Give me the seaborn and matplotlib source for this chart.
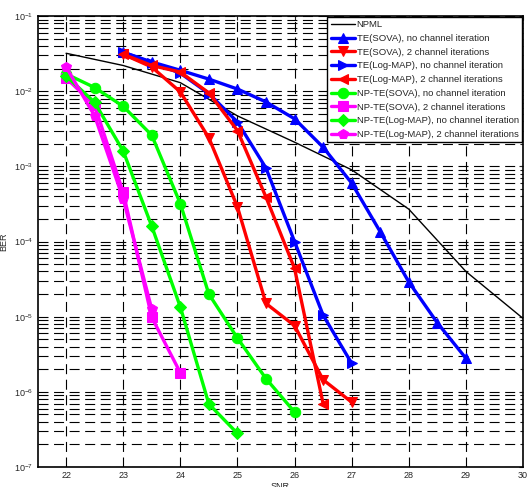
import numpy as np
import pandas as pd
import matplotlib
matplotlib.use('Agg')
import matplotlib.pyplot as plt
import seaborn as sns
from matplotlib.ticker import LogLocator, NullFormatter

# datos
snr_npml = [22, 23, 24, 25, 26, 27, 28, 29, 30]
ber_npml = [0.032, 0.022, 0.013, 0.0047, 0.0021, 0.0009, 0.00027, 4.0e-5, 9.5e-6]

snr_te_sova_0 = [23, 23.5, 24, 24.5, 25, 25.5, 26, 26.5, 27, 27.5, 28, 28.5, 29]
ber_te_sova_0 = [0.033, 0.0245, 0.019, 0.0145, 0.0107, 0.0072, 0.0043, 0.0018,
                 0.0006, 0.000135, 2.9e-5, 8.3e-6, 2.8e-6]

snr_te_sova_2 = [23, 23.5, 24, 24.5, 25, 25.5, 26, 26.5, 27]
ber_te_sova_2 = [0.031, 0.021, 0.0098, 0.0024, 0.00029, 1.5e-5, 7.6e-6, 1.45e-6, 7.3e-7]

snr_te_map_0 = [23, 23.5, 24, 24.5, 25, 25.5, 26, 26.5, 27]
ber_te_map_0 = [0.033, 0.024, 0.0174, 0.0093, 0.0039, 0.00095, 1.0e-4, 1.05e-5, 2.4e-6]

snr_te_map_2 = [23, 23.5, 24, 24.5, 25, 25.5, 26, 26.5]
ber_te_map_2 = [0.031, 0.022, 0.018, 0.0095, 0.003, 0.00039, 4.4e-5, 7.0e-7]

snr_np_sova_0 = [22, 22.5, 23, 23.5, 24, 24.5, 25, 25.5, 26]
ber_np_sova_0 = [0.017, 0.0112, 0.0063, 0.0026, 0.00032, 2.0e-5, 5.2e-6, 1.5e-6, 5.4e-7]

snr_np_sova_2 = [22, 22.5, 23, 23.5, 24]
ber_np_sova_2 = [0.015, 0.0065, 0.00045, 9.8e-6, 1.8e-6]

snr_np_map_0 = [22, 22.5, 23, 23.5, 24, 24.5, 25]
ber_np_map_0 = [0.016, 0.0071, 0.0016, 0.00016, 1.35e-5, 6.9e-7, 2.8e-7]

snr_np_map_2 = [22, 22.5, 23, 23.5]
ber_np_map_2 = [0.021, 0.0047, 0.00037, 1.26e-5]

etiquetas = ['NPML',
             'TE(SOVA), no channel iteration',
             'TE(SOVA), 2 channel iterations',
             'TE(Log-MAP), no channel iteration',
             'TE(Log-MAP), 2 channel iterations',
             'NP-TE(SOVA), no channel iteration',
             'NP-TE(SOVA), 2 channel iterations',
             'NP-TE(Log-MAP), no channel iteration',
             'NP-TE(Log-MAP), 2 channel iterations']

series = [(snr_npml, ber_npml), (snr_te_sova_0, ber_te_sova_0), (snr_te_sova_2, ber_te_sova_2),
          (snr_te_map_0, ber_te_map_0), (snr_te_map_2, ber_te_map_2),
          (snr_np_sova_0, ber_np_sova_0), (snr_np_sova_2, ber_np_sova_2),
          (snr_np_map_0, ber_np_map_0), (snr_np_map_2, ber_np_map_2)]

colores = ['black', '#0000ff', '#ff0000', '#0000ff', '#ff0000',
           '#00ff00', '#ff00ff', '#00ff00', '#ff00ff']
marcadores = [None, '^', 'v', '>', '<', 'o', 's', 'D', 'p']

sns.set_style("white")
plt.rcParams['font.family'] = ['Liberation Sans', 'DejaVu Sans']

fig = plt.figure(figsize=(5.27, 4.87), dpi=100)
ax = fig.add_axes([0.0712, 0.041, 0.9212, 0.926])

for (x, y), lab, c, m in zip(series, etiquetas, colores, marcadores):
    df = pd.DataFrame({'SNR': x, 'BER': y})
    if m is None:
        sns.lineplot(data=df, x='SNR', y='BER', color=c, lw=1.0, label=lab, ax=ax)
    else:
        ms = 6 if m == 'D' else 7.5
        sns.lineplot(data=df, x='SNR', y='BER', color=c, lw=2.4, marker=m,
                     markersize=ms, markeredgecolor=c, label=lab, ax=ax)

ax.set_yscale('log')
ax.set_xlim(21.5, 30)
ax.set_ylim(1e-7, 1e-1)
ax.set_xticks(range(22, 31))
ax.yaxis.set_major_locator(LogLocator(base=10, numticks=10))
ax.yaxis.set_minor_locator(LogLocator(base=10, subs=np.arange(2, 10), numticks=100))
ax.yaxis.set_minor_formatter(NullFormatter())

ax.grid(True, which='major', color='black', lw=0.8, ls=(0, (9, 5)))
ax.grid(True, which='minor', axis='y', color='black', lw=0.8, ls=(0, (9, 5)))
ax.set_axisbelow(True)

ax.tick_params(axis='both', which='both', direction='in', top=True, right=True,
               labelsize=6.5, length=3, pad=3)
ax.tick_params(axis='y', which='minor', length=2)
for s in ax.spines.values():
    s.set_color('black')
    s.set_linewidth(1.2)

ax.set_xlabel('SNR', fontsize=6.5, labelpad=1)
ax.set_ylabel('BER', fontsize=6.5, labelpad=4)

leg = ax.legend(loc='upper right', fontsize=6.8, frameon=True, fancybox=False,
                borderaxespad=0.1, labelspacing=0.5, handlelength=2.6,
                handletextpad=0.15, borderpad=0.35, markerscale=1.0)
leg.get_frame().set_edgecolor('black')
leg.get_frame().set_linewidth(1.0)
leg.get_frame().set_alpha(1)

fig.savefig('out.png', dpi=100)
